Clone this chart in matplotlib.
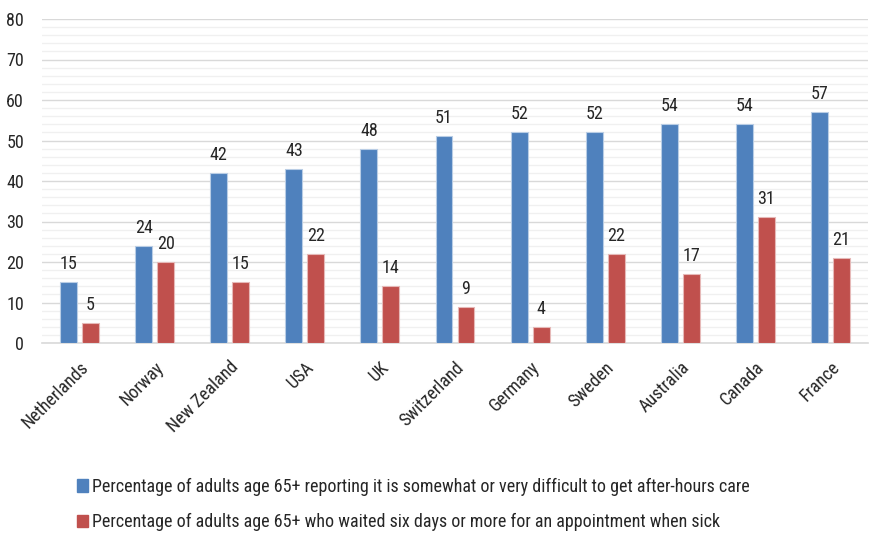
import matplotlib
matplotlib.use('Agg')
import matplotlib.pyplot as plt
from matplotlib.patches import Patch
from matplotlib.ticker import MultipleLocator
import numpy as np

countries = ["Netherlands", "Norway", "New Zealand", "USA", "UK", "Switzerland",
             "Germany", "Sweden", "Australia", "Canada", "France"]
after_hours = [15, 24, 42, 43, 48, 51, 52, 52, 54, 54, 57]
waited_six_days = [5, 20, 15, 22, 14, 9, 4, 22, 17, 31, 21]
legend_labels = [
    "Percentage of adults age 65+ reporting it is somewhat or very difficult to get after-hours care",
    "Percentage of adults age 65+ who waited six days or more for an appointment when sick",
]

BLUE = "#4F81BD"
RED = "#C0504D"
INK = "#262626"
FS = 13

# narrow sans first, whichever is installed
plt.rcParams['font.family'] = ['Liberation Sans Narrow', 'Arial Narrow', 'Roboto Condensed',
                               'Archivo Narrow', 'PT Sans Narrow', 'Liberation Sans', 'DejaVu Sans']

fig = plt.figure(figsize=(8.7, 5.33), dpi=100)
ax = fig.add_axes([42 / 870, 1 - 343 / 533, 826 / 870, 324 / 533])

x = np.arange(len(countries))
w = 0.225
bb = ax.bar(x - 0.146, after_hours, w, color=BLUE, edgecolor="#B9CDE5", linewidth=0.8, zorder=3)
rb = ax.bar(x + 0.146, waited_six_days, w, color=RED, edgecolor="#E6B9B8", linewidth=0.8, zorder=3)

for bars, vals in ((bb, after_hours), (rb, waited_six_days)):
    for b, v in zip(bars, vals):
        ax.text(b.get_x() + b.get_width() / 2, v + 3.2, str(v), ha="center", va="baseline",
                fontsize=FS, color=INK)

ax.set_xlim(-0.5, len(countries) - 0.5)
ax.set_ylim(0, 80)
ax.yaxis.set_major_locator(MultipleLocator(10))
ax.yaxis.set_minor_locator(MultipleLocator(2))
ax.grid(axis="y", which="major", color="#D9D9D9", linewidth=1.0, zorder=0)
ax.grid(axis="y", which="minor", color="#F0F0F0", linewidth=1.0, zorder=0)

for s in ("top", "right", "left"):
    ax.spines[s].set_visible(False)
ax.spines["bottom"].set_color("#D9D9D9")
ax.spines["bottom"].set_linewidth(1.2)

ax.tick_params(axis="y", which="both", length=0, labelsize=FS, labelcolor=INK, pad=13)
ax.tick_params(axis="x", length=0, labelsize=FS, labelcolor=INK, pad=11)
ax.set_xticks(x)
ax.set_xticklabels(countries, rotation=45, ha="right", va="top", rotation_mode="anchor")

handles = [Patch(color=BLUE), Patch(color=RED)]
fig.legend(handles, legend_labels, loc="upper left", bbox_to_anchor=(77 / 870, 1 - 478 / 533),
           frameon=False, fontsize=FS, labelcolor=INK, handlelength=0.6, handleheight=0.7,
           handletextpad=0.25, labelspacing=0.95, borderpad=0, borderaxespad=0)

fig.savefig("out.png", dpi=100)
